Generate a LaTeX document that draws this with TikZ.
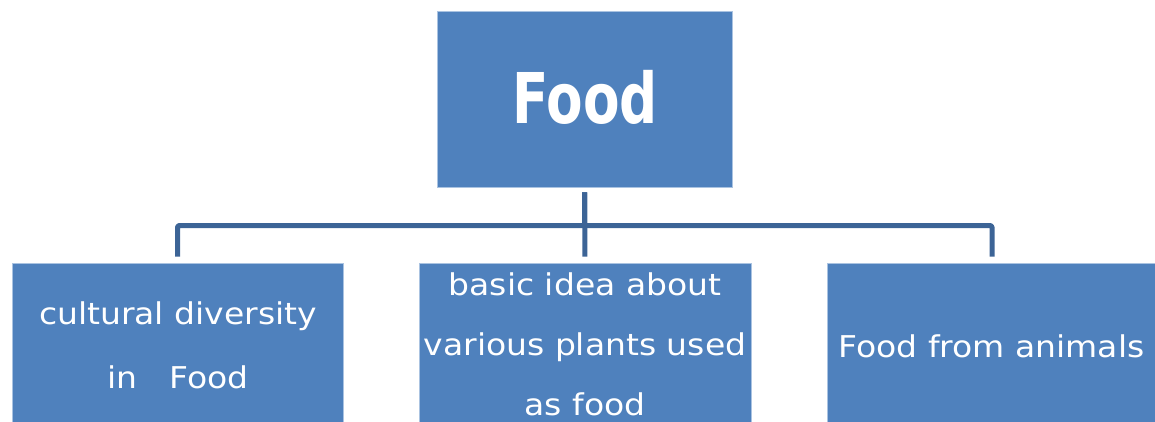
\documentclass[tikz,border=0pt]{standalone}
\usepackage{fontspec}
\setmainfont{DejaVu Sans}
\newfontfamily\headfont[FakeStretch=0.76]{DejaVu Sans}
\newfontfamily\bodyfont[FakeStretch=1.1]{DejaVu Sans}
\usetikzlibrary{positioning}
\definecolor{boxblue}{RGB}{79,129,189}
\definecolor{linkblue}{RGB}{60,100,150}
\definecolor{rimblue}{RGB}{170,195,225}
\tikzset{
  topic/.style={rectangle, fill=boxblue, draw=rimblue, line width=0.8pt, inner sep=0pt},
  label/.style={text=white, align=center, inner sep=0pt},
  link/.style={draw=linkblue, line width=5pt, line join=round, rounded corners=1.5pt,
    shorten <=5pt, shorten >=6pt}
}

\begin{document}
\begin{tikzpicture}[x=1pt, y=-1pt]
	% Canvas of the reference picture
	\useasboundingbox (0,0) rectangle (1155,421);
	\clip (0,0) rectangle (1155,421);

	% Draw the boxes
	\node[topic, minimum width=295pt, minimum height=176pt] (food) at (584.5,99) {};
	\node[topic, minimum width=331pt, minimum height=217pt] (culture) at (177.5,371.5) {};
	\node[topic, minimum width=332pt, minimum height=217pt] (plants) at (585,371.5) {};
	\node[topic, minimum width=330pt, minimum height=217pt] (animals) at (992,371.5) {};

	% Put the texts (base = last line)
	\node[label, anchor=base, font=\headfont\fontsize{70}{80}\selectfont\bfseries] (foodtext) at (585,123) {Food};
	\node[label, anchor=base, font=\bodyfont\fontsize{30}{64}\selectfont] (culturetext) at (178,388) {cultural diversity\\in\ \ \ Food};
	\node[label, anchor=base, font=\bodyfont\fontsize{30}{60}\selectfont] (plantstext) at (585,415) {basic idea about\\various plants used\\as food};
	\node[label, anchor=base, font=\bodyfont\fontsize{30}{60}\selectfont] (animalstext) at (991.5,357) {Food from animals};

	% Draw the connectors
	\coordinate (bus) at (585,225.5);
	\draw[link] (food.south) -- (food.south |- bus) -| (culture.north);
	\draw[link] (food.south) -- (plants.north);
	\draw[link] (food.south) -- (food.south |- bus) -| (animals.north);
\end{tikzpicture}
\end{document}
